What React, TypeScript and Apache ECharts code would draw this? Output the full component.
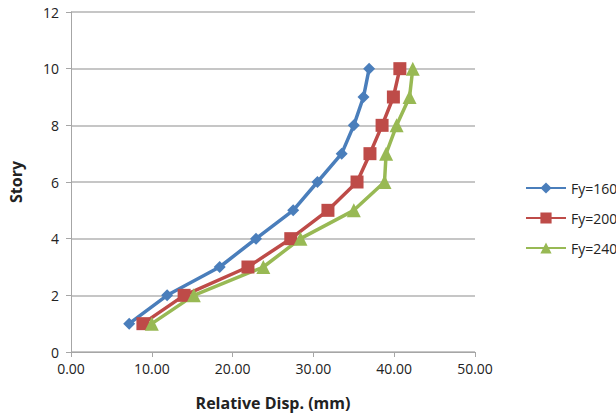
import React, { useEffect, useRef } from "react";
import * as echarts from "echarts";

const stories = [1, 2, 3, 4, 5, 6, 7, 8, 9, 10];
const fy160 = [7.2, 11.9, 18.4, 22.9, 27.5, 30.5, 33.5, 35.0, 36.2, 36.9];
const fy200 = [8.9, 14.0, 21.9, 27.2, 31.8, 35.4, 37.0, 38.5, 39.9, 40.7];
const fy240 = [10.0, 15.2, 23.8, 28.4, 35.0, 38.8, 39.0, 40.3, 41.9, 42.3];
const seriesNames = ["Fy=160", "Fy=200", "Fy=240"];
const colors = ["#4a7ebb", "#be4b48", "#98b954"];
const symbols = ["diamond", "rect", "triangle"];
const symbolSizes = [12, 13, 14];

export default function App() {
  const ref = useRef<HTMLDivElement>(null);
  useEffect(() => {
    if (!ref.current) return;
    const chart = echarts.init(ref.current, undefined, { renderer: "svg" });
    const all = [fy160, fy200, fy240];
    const font = "Open Sans";
    chart.setOption({
      animation: false,
      textStyle: { fontFamily: font },
      grid: { left: 67, right: 141, top: 12, bottom: 68 },
      legend: {
        orient: "vertical",
        left: 520,
        top: 176,
        itemGap: 16,
        itemWidth: 40,
        itemHeight: 14,
        textStyle: { fontSize: 14, color: "#222", fontFamily: font },
        data: seriesNames,
      },
      xAxis: {
        type: "value",
        min: 0,
        max: 50,
        interval: 10,
        name: "Relative Disp. (mm)",
        nameLocation: "middle",
        nameGap: 43,
        nameTextStyle: { fontSize: 16, fontWeight: "bold", color: "#222" },
        axisLine: { lineStyle: { color: "#a6a6a6" } },
        axisTick: { show: true, length: 5, lineStyle: { color: "#a6a6a6" } },
        axisLabel: {
          formatter: (v: number) => v.toFixed(2),
          fontSize: 14,
          color: "#222",
          margin: 9,
        },
        splitLine: { show: false },
      },
      yAxis: {
        type: "value",
        min: 0,
        max: 12,
        interval: 2,
        name: "Story",
        nameLocation: "middle",
        nameGap: 47,
        nameRotate: 90,
        nameTextStyle: { fontSize: 16, fontWeight: "bold", color: "#222" },
        axisLine: { show: true, lineStyle: { color: "#a6a6a6" } },
        axisTick: { show: true, length: 5, lineStyle: { color: "#a6a6a6" } },
        axisLabel: { fontSize: 14, color: "#222", margin: 12 },
        splitLine: { show: true, lineStyle: { color: "#b3b3b3", width: 1.5 } },
      },
      series: all.map((vals, i) => ({
        name: seriesNames[i],
        type: "line",
        data: vals.map((v, j) => [v, stories[j]]),
        symbol: symbols[i],
        symbolSize: symbolSizes[i],
        showSymbol: true,
        itemStyle: { color: colors[i] },
        lineStyle: { color: colors[i], width: 3.5 },
      })),
    });
    return () => chart.dispose();
  }, []);
  return <div ref={ref} style={{ width: 616, height: 420, position: "absolute", left: 0, top: 0 }} />;
}
